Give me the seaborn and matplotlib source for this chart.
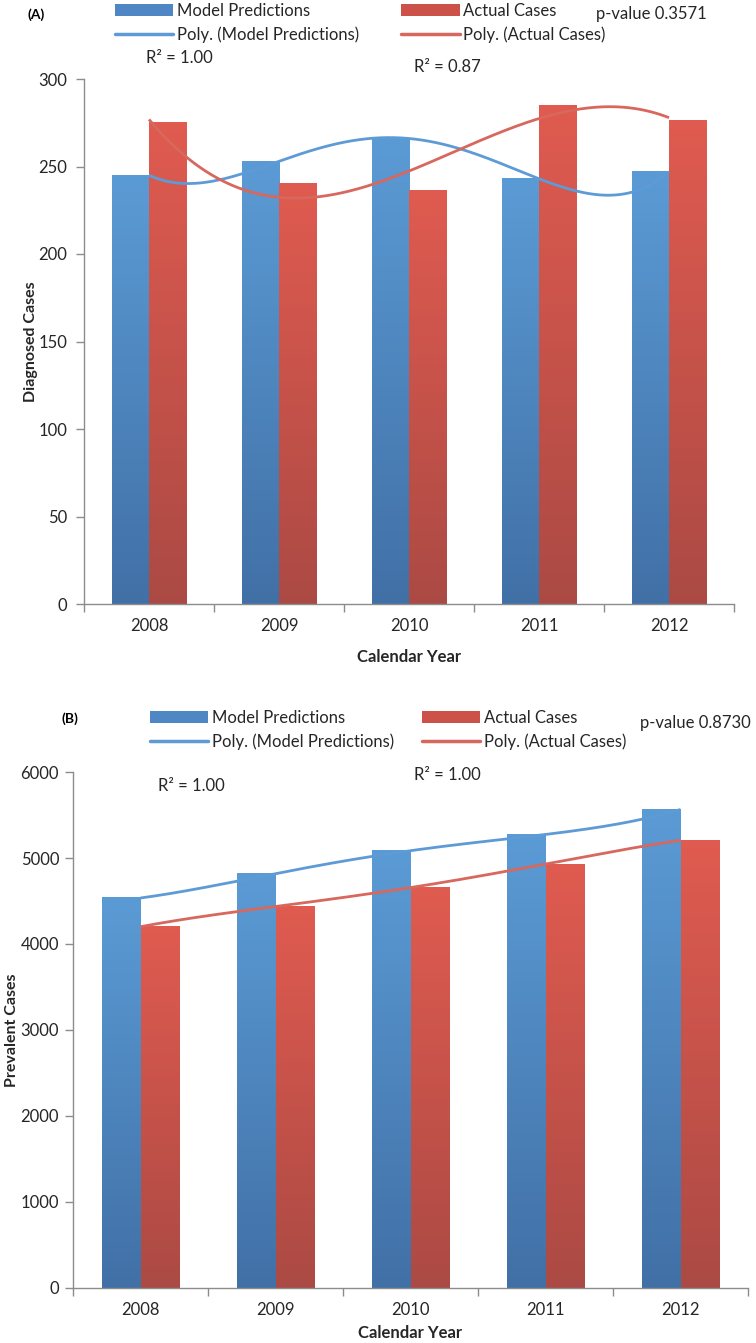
import numpy as np
import pandas as pd
import matplotlib
matplotlib.use("Agg")
import matplotlib.pyplot as plt
import seaborn as sns
from matplotlib.colors import LinearSegmentedColormap
from matplotlib.patches import Patch
from matplotlib.lines import Line2D
from matplotlib.ticker import FixedLocator

# ---------------- data ----------------
years = ["2008", "2009", "2010", "2011", "2012"]
a_model = [245, 253, 266, 243, 247]
a_actual = [275, 240, 236, 285, 276]
b_model = [4535, 4818, 5085, 5274, 5564]
b_actual = [4201, 4436, 4656, 4930, 5205]
series_names = ["Model Predictions", "Actual Cases"]
a_trend_deg = [4, 3]
b_trend_deg = [4, 4]
a_r2 = ["R\u00b2 = 1.00", "R\u00b2 = 0.87"]
b_r2 = ["R\u00b2 = 1.00", "R\u00b2 = 1.00"]
a_p = "p-value 0.3571"
b_p = "p-value 0.8730"

sns.set_theme(style="white")
plt.rcParams["font.family"] = ["Lato", "DejaVu Sans"]

W, H = 756, 1343
fig = plt.figure(figsize=(W / 100, H / 100), dpi=100)

BAR_TOP = ["#5b9bd5", "#e05b50"]
BAR_BOT = ["#4170a6", "#ab4a44"]
LINE_C = ["#5e9bd6", "#d8675d"]
LEG_C = ["#4f87c4", "#cc5249"]
AX_C = "#8c8c8c"
TXT_C = "#262626"


def fx(px):
    return px / W


def fy(py):
    return 1 - py / H


def panel(rect_px, model, actual, degs, ylim, ystep, ylabel, ylab_x, xlab_y, ypad):
    l, t, r, b = rect_px
    ax = fig.add_axes([fx(l), fy(b), fx(r) - fx(l), fy(t) - fy(b)])
    df = pd.DataFrame({
        "Year": years * 2,
        "Cases": list(model) + list(actual),
        "Series": [series_names[0]] * 5 + [series_names[1]] * 5,
    })
    sns.barplot(data=df, x="Year", y="Cases", hue="Series", order=years,
                hue_order=series_names, palette=LEG_C, width=0.57,
                ax=ax, legend=False, saturation=1, edgecolor="none")
    grad = np.linspace(0, 1, 256).reshape(-1, 1)
    for i, cont in enumerate(ax.containers):
        cmap = LinearSegmentedColormap.from_list("g%d" % i, [BAR_BOT[i], BAR_TOP[i]])
        for rect in cont:
            x0, w, h = rect.get_x(), rect.get_width(), rect.get_height()
            ax.imshow(grad, cmap=cmap, extent=[x0, x0 + w, 0, h], origin="lower",
                      aspect="auto", zorder=2, interpolation="bilinear")
            rect.set_facecolor("none")
    xs = np.arange(len(years))
    xf = np.linspace(0, len(years) - 1, 300)
    for i, vals in enumerate([model, actual]):
        coef = np.polyfit(xs, vals, degs[i])
        ax.plot(xf, np.polyval(coef, xf), color=LINE_C[i], lw=2.0, zorder=4,
                solid_capstyle="butt")
    ax.set_xlim(-0.5, len(years) - 0.5)
    ax.set_ylim(*ylim)
    ax.set_yticks(np.arange(ylim[0], ylim[1] + 1, ystep))
    ax.xaxis.set_minor_locator(FixedLocator(np.arange(-0.5, len(years), 1.0)))
    ax.tick_params(axis="x", which="major", length=0, pad=10, labelsize=12, colors=TXT_C)
    ax.tick_params(axis="x", which="minor", length=6, color=AX_C, width=1, bottom=True)
    ax.tick_params(axis="y", length=6, color=AX_C, width=1, left=True, pad=ypad,
                   labelsize=12, labelcolor=TXT_C)
    for s in ["top", "right"]:
        ax.spines[s].set_visible(False)
    for s in ["left", "bottom"]:
        ax.spines[s].set_color(AX_C)
        ax.spines[s].set_linewidth(1.0)
    ax.set_xlabel("Calendar Year", fontsize=12, fontweight="bold", color=TXT_C)
    ax.set_ylabel(ylabel, fontsize=11.5, fontweight="bold", color=TXT_C)
    ax.xaxis.set_label_coords(0.5, xlab_y)
    ax.yaxis.set_label_coords(ylab_x, 0.5)
    ax.grid(False)
    return ax


def legend_block(x_px, y_px, colsp):
    handles = [Patch(facecolor=LEG_C[0], edgecolor="none"),
               Line2D([], [], color=LINE_C[0], lw=2.5),
               Patch(facecolor=LEG_C[1], edgecolor="none"),
               Line2D([], [], color=LINE_C[1], lw=2.5)]
    labels = [series_names[0], "Poly. (" + series_names[0] + ")",
              series_names[1], "Poly. (" + series_names[1] + ")"]
    fig.legend(handles, labels, loc="upper left", bbox_to_anchor=(fx(x_px), fy(y_px)),
               ncol=2, frameon=False, fontsize=12, handlelength=3.5, handleheight=0.7,
               handletextpad=0.2, columnspacing=colsp, labelspacing=0.42,
               borderpad=0, borderaxespad=0, labelcolor=TXT_C)


# Panel A
axA = panel((84, 79, 734, 604), a_model, a_actual, a_trend_deg, (0, 300), 50,
            "Diagnosed Cases", -0.071, -0.086, 6)
fig.text(fx(27), fy(15), "(A)", fontsize=10, fontweight="bold", va="center", color="black")
legend_block(115, 3, 2.55)
fig.text(fx(596), fy(14), a_p, fontsize=12, va="center", color=TXT_C)
fig.text(fx(146), fy(58), a_r2[0], fontsize=12, va="center", color=TXT_C)
fig.text(fx(414), fy(67), a_r2[1], fontsize=12, va="center", color=TXT_C)

# Panel B
axB = panel((73, 772, 748, 1288), b_model, b_actual, b_trend_deg, (0, 6000), 1000,
            "Prevalent Cases", -0.080, -0.071, 4)
fig.text(fx(61), fy(719), "(B)", fontsize=10, fontweight="bold", va="center", color="black")
legend_block(150, 710, 1.7)
fig.text(fx(640), fy(723), b_p, fontsize=12, va="center", color=TXT_C)
fig.text(fx(158), fy(786), b_r2[0], fontsize=12, va="center", color=TXT_C)
fig.text(fx(414), fy(775), b_r2[1], fontsize=12, va="center", color=TXT_C)

fig.savefig("out.png", dpi=100)
